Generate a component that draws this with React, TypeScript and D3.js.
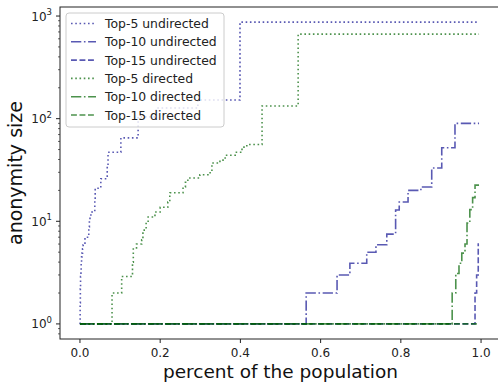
import React, { useEffect, useRef } from 'react';
import * as d3 from 'd3';

// [percent of population, anonymity size] step points
const top5Undirected: [number, number][] = [
  [0, 1], [0.0005, 1.6], [0.001, 2.2], [0.0015, 2.9], [0.0025, 3.3], [0.003, 3.9],
  [0.004, 4.5], [0.005, 4.9], [0.0065, 5.4], [0.008, 5.9], [0.0125, 7], [0.022, 8.8],
  [0.0235, 10.3], [0.025, 11.5], [0.03, 12.3], [0.037, 16], [0.038, 21], [0.052, 26],
  [0.068, 36], [0.07, 47], [0.102, 65], [0.145, 104], [0.19, 127], [0.294, 152],
  [0.399, 873], [0.995, 873]
];
const top10Undirected: [number, number][] = [
  [0, 1], [0.564, 2], [0.641, 3], [0.673, 3.9], [0.715, 5], [0.738, 5.9], [0.765, 7.5],
  [0.787, 12.9], [0.796, 15.4], [0.818, 20], [0.85, 21.6], [0.877, 33], [0.902, 52],
  [0.935, 90], [0.995, 90]
];
const top15Undirected: [number, number][] = [
  [0, 1], [0.985, 2], [0.989, 3], [0.993, 6], [0.995, 6]
];
const top5Directed: [number, number][] = [
  [0, 1], [0.08, 2], [0.104, 2.9], [0.131, 4], [0.133, 5.5], [0.141, 6], [0.154, 6.6],
  [0.157, 8.2], [0.165, 10], [0.17, 11], [0.187, 12.3], [0.2, 13.7], [0.219, 15.4],
  [0.224, 19], [0.257, 21.6], [0.263, 24], [0.269, 26.4], [0.299, 28.4], [0.319, 29.7],
  [0.329, 37], [0.349, 39.4], [0.362, 44], [0.387, 47], [0.404, 52.8], [0.416, 56],
  [0.454, 133], [0.544, 667], [0.995, 667]
];
const top10Directed: [number, number][] = [
  [0, 1], [0.928, 2], [0.937, 3.1], [0.945, 3.9], [0.952, 4.9], [0.96, 6], [0.965, 9.6],
  [0.972, 13], [0.979, 17], [0.985, 22.5], [0.995, 22.5]
];
const top15Directed: [number, number][] = [[0, 1], [0.995, 1]];

const seriesNames = [
  'Top-5 undirected', 'Top-10 undirected', 'Top-15 undirected',
  'Top-5 directed', 'Top-10 directed', 'Top-15 directed'
];
const seriesData = [top5Undirected, top10Undirected, top15Undirected, top5Directed, top10Directed, top15Directed];
const xTicks = [0, 0.2, 0.4, 0.6, 0.8, 1.0];
const yTicks = [1, 10, 100, 1000];

const BLUE = '#00008b';
const GREEN = '#006400';
const dashes = ['1.6,2.65', '10.3,2.6,1.6,2.6', '5.9,2.6'];

export default function App() {
  const svgRef = useRef<SVGSVGElement>(null);

  useEffect(() => {
    if (!svgRef.current) return;
    const svg = d3.select(svgRef.current);
    svg.selectAll('*').remove();

    const W = 498, H = 383;
    const left = 60, right = 499, top = 7, bottom = 339;
    const font = 'DejaVu Sans, sans-serif';

    // matplotlib-style 5% margins
    const allX = seriesData.flat().map(d => d[0]);
    const allY = seriesData.flat().map(d => Math.log10(d[1]));
    const [x0, x1] = d3.extent(allX) as [number, number];
    const [l0, l1] = d3.extent(allY) as [number, number];
    const mx = (x1 - x0) * 0.05, my = (l1 - l0) * 0.05;

    const x = d3.scaleLinear().domain([x0 - mx, x1 + mx]).range([left, right]);
    const y = d3.scaleLog().domain([Math.pow(10, l0 - my), Math.pow(10, l1 + my)]).range([bottom, top]);

    svg.attr('width', W).attr('height', H);

    const line = d3.line<[number, number]>()
      .x(d => x(d[0]))
      .y(d => y(d[1]))
      .curve(d3.curveStepAfter);

    seriesData.forEach((s, i) => {
      svg.append('path')
        .attr('d', line(s))
        .attr('fill', 'none')
        .attr('stroke', i < 3 ? BLUE : GREEN)
        .attr('stroke-opacity', i < 3 ? 0.65 : 0.7)
        .attr('stroke-width', 1.6)
        .attr('stroke-dasharray', dashes[i % 3]);
    });

    // frame
    svg.append('rect')
      .attr('x', left).attr('y', top)
      .attr('width', right - left).attr('height', bottom - top)
      .attr('fill', 'none').attr('stroke', '#222').attr('stroke-width', 1);

    // x ticks
    const xg = svg.append('g');
    xTicks.forEach(t => {
      xg.append('line').attr('x1', x(t)).attr('x2', x(t)).attr('y1', bottom).attr('y2', bottom + 4)
        .attr('stroke', '#222');
      xg.append('text').attr('x', x(t)).attr('y', bottom + 18)
        .attr('text-anchor', 'middle').attr('font-family', font).attr('font-size', 12)
        .attr('fill', '#222').text(d3.format('.1f')(t));
    });

    // y ticks
    const yg = svg.append('g');
    const [d0, d1] = y.domain();
    for (let e = -1; e <= 3; e++) {
      for (let m = 2; m <= 9; m++) {
        const v = m * Math.pow(10, e);
        if (v < d0 || v > d1) continue;
        yg.append('line').attr('x1', left - 2).attr('x2', left).attr('y1', y(v)).attr('y2', y(v))
          .attr('stroke', '#222').attr('stroke-width', 0.7);
      }
    }
    yTicks.forEach(t => {
      yg.append('line').attr('x1', left - 4).attr('x2', left).attr('y1', y(t)).attr('y2', y(t))
        .attr('stroke', '#222');
      const txt = yg.append('text').attr('x', left - 8).attr('y', y(t) + 4.5)
        .attr('text-anchor', 'end').attr('font-family', font).attr('font-size', 12).attr('fill', '#222');
      txt.append('tspan').text('10');
      txt.append('tspan').attr('font-size', 8.5).attr('dy', -5.5).text(String(Math.round(Math.log10(t))));
    });

    // axis labels
    svg.append('text')
      .attr('x', (left + right) / 2 + 1).attr('y', 378)
      .attr('text-anchor', 'middle').attr('font-family', font).attr('font-size', 18.5)
      .attr('fill', '#111').text('percent of the population');
    svg.append('text')
      .attr('transform', `translate(22,${(top + bottom) / 2}) rotate(-90)`)
      .attr('text-anchor', 'middle').attr('font-family', font).attr('font-size', 19)
      .attr('fill', '#111').text('anonymity size');

    // legend
    const lg = svg.append('g');
    lg.append('rect')
      .attr('x', 66).attr('y', 13).attr('width', 158).attr('height', 114).attr('rx', 3)
      .attr('fill', 'white').attr('fill-opacity', 0.8)
      .attr('stroke', '#ccc').attr('stroke-width', 1);
    seriesNames.forEach((name, i) => {
      const ry = 23.5 + i * 18.3;
      lg.append('line').attr('x1', 71).attr('x2', 96).attr('y1', ry).attr('y2', ry)
        .attr('stroke', i < 3 ? BLUE : GREEN)
        .attr('stroke-opacity', i < 3 ? 0.65 : 0.7)
        .attr('stroke-width', 1.6)
        .attr('stroke-dasharray', dashes[i % 3]);
      lg.append('text').attr('x', 105).attr('y', ry + 4.5)
        .attr('font-family', font).attr('font-size', 12.4).attr('fill', '#222').text(name);
    });
  }, []);

  return (
    <div style={{ position: 'absolute', left: 0, top: 0 }}>
      <svg ref={svgRef}></svg>
    </div>
  );
}
